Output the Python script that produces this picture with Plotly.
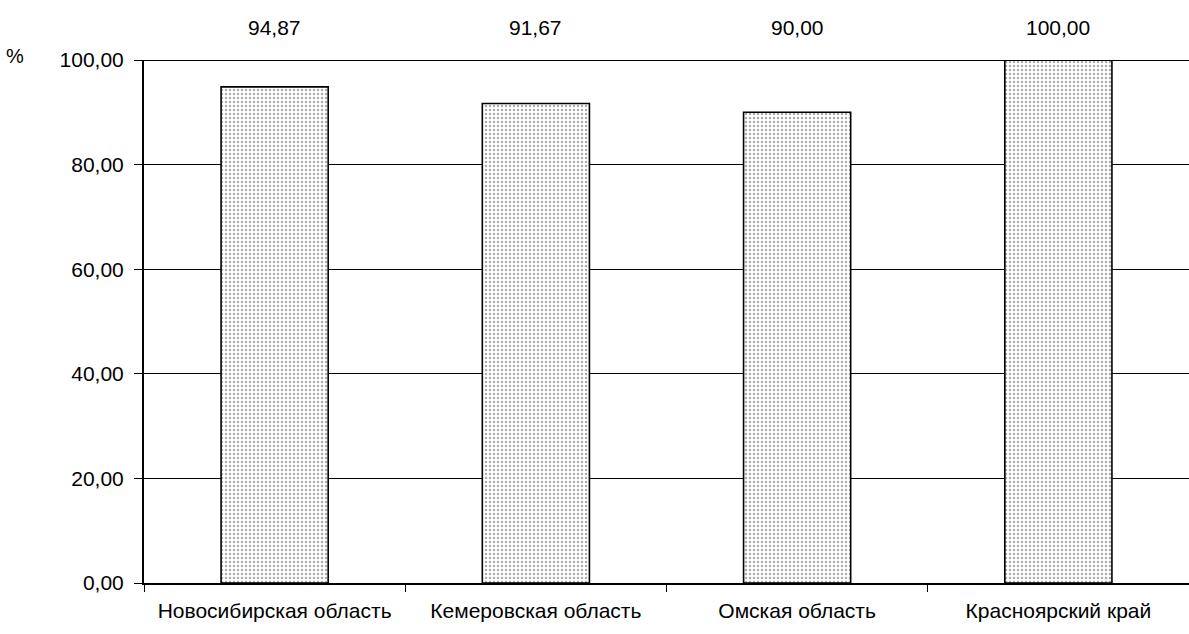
import plotly.graph_objects as go

categories = ["Новосибирская область", "Кемеровская область", "Омская область", "Красноярский край"]
values = [94.87, 91.67, 90.00, 100.00]
y_ticks = [0, 20, 40, 60, 80, 100]
y_tick_labels = ["0,00", "20,00", "40,00", "60,00", "80,00", "100,00"]
value_labels = ["94,87", "91,67", "90,00", "100,00"]

FONT = "Liberation Sans, Arial, sans-serif"
FS = 21

fig = go.Figure()
fig.add_trace(go.Bar(
    x=categories,
    y=values,
    width=0.41,
    marker=dict(
        color="white",
        line=dict(color="black", width=1.6),
        pattern=dict(shape=".", fgcolor="#555555", bgcolor="white", size=4, solidity=0.3),
    ),
    hoverinfo="skip",
))

for cat, lab in zip(categories, value_labels):
    fig.add_annotation(x=cat, y=1.062, xref="x", yref="paper", text=lab,
                       showarrow=False, font=dict(size=FS, color="black", family=FONT),
                       yanchor="middle")

fig.add_annotation(x=(15 - 144) / (1189 - 144), y=(583 - 56) / (583 - 60),
                   xref="paper", yref="paper", text="%", showarrow=False,
                   xanchor="center", yanchor="middle",
                   font=dict(size=FS - 1, color="black", family=FONT))

fig.add_shape(type="line", xref="paper", yref="y", x0=0, x1=1, y0=100, y1=100,
              line=dict(color="black", width=2))

fig.update_layout(
    width=1189, height=634,
    margin=dict(l=144, r=0, t=60, b=51),
    paper_bgcolor="white", plot_bgcolor="white",
    showlegend=False,
    font=dict(family=FONT, size=FS, color="black"),
)
fig.update_xaxes(
    showline=True, linecolor="black", linewidth=2,
    ticks="outside", tickson="boundaries", ticklen=7, tickcolor="black", tickwidth=1,
    showgrid=False, tickfont=dict(size=FS, family=FONT), ticklabelstandoff=8,
)
fig.update_yaxes(
    range=[0, 100], tickvals=y_ticks, ticktext=y_tick_labels,
    showline=True, linecolor="black", linewidth=2,
    ticks="outside", ticklen=8, tickcolor="black", tickwidth=1,
    showgrid=True, gridcolor="black", gridwidth=1,
    zeroline=False, tickfont=dict(size=FS, family=FONT), ticklabelstandoff=6,
)

fig.write_html("out.html")
